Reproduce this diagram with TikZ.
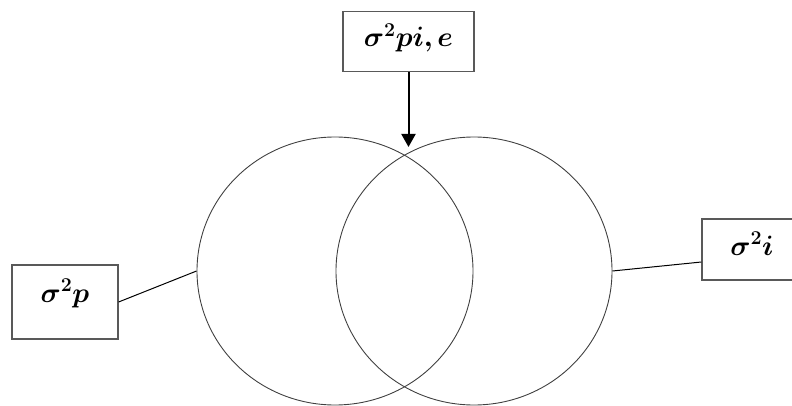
\RequirePackage{fix-cm}
\documentclass[tikz,border=0pt]{standalone}
\usepackage{bm}
\usetikzlibrary{shapes.geometric,arrows.meta}
\tikzset{
  varbox/.style={draw=black!65, line width=1.2pt, inner sep=0pt,
    font=\fontsize{28}{32}\selectfont},
  varset/.style={draw=black!75, line width=0.9pt, ellipse, inner sep=0pt,
    minimum width=276pt, minimum height=268pt},
}
\begin{document}
\begin{tikzpicture}[x=1pt,y=-1pt,>={Triangle[length=13pt,width=14pt]}]
\useasboundingbox (0,0) rectangle (792,406);
% the two sets
\node[varset] (P) at (335,271) {};
\node[varset] (I) at (474,271) {};
% variance boxes
\node[varbox, minimum width=131pt, minimum height=60pt,
  text height=20.6pt, text depth=10pt] (pie) at (408.5,41.5) {$\bm{\sigma^2 pi,e}$};
\node[varbox, minimum width=106pt, minimum height=74pt,
  text height=16pt, text depth=16pt] (p) at (65,302) {$\bm{\sigma^2 p}$};
\node[varbox, minimum width=100pt, minimum height=61pt,
  text height=21pt, text depth=10pt] (i) at (752,249.5) {$\bm{\sigma^2 i}$};
% connectors
\coordinate (tip) at (pie.south |- 0,147);
\draw[->, line width=2pt] (pie.south) -- (tip);
\draw[line width=1pt] (p.east) -- (P.west);
\draw[line width=1pt] ([yshift=-12.5pt]i.west) -- (I.east);
\end{tikzpicture}
\end{document}
